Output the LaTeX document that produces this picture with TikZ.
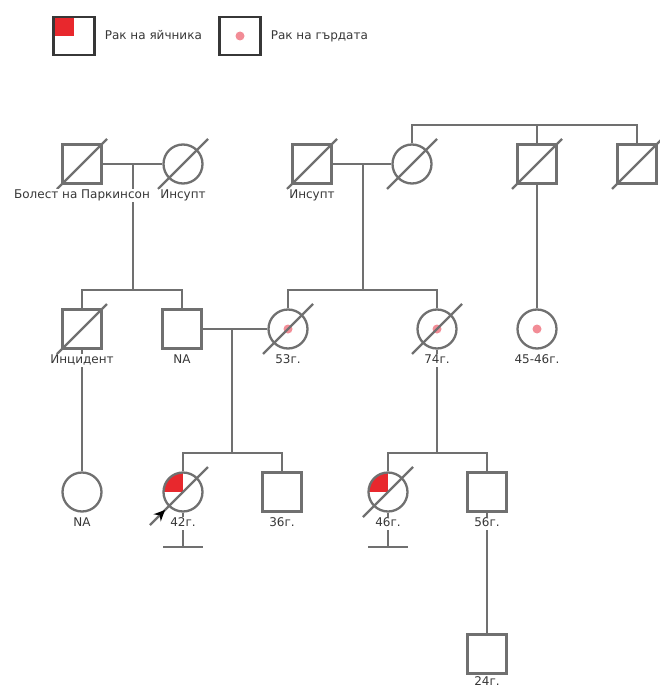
\documentclass[tikz,border=0pt]{standalone}
\usepackage{fontspec}
\setmainfont{DejaVu Sans}
\usepackage{tikz}
\usetikzlibrary{shapes,arrows,arrows.meta,positioning}

\definecolor{lgray}{RGB}{112,112,112}
\definecolor{dgray}{RGB}{55,55,55}
\definecolor{rouge}{RGB}{232,40,45}
\definecolor{rose}{RGB}{242,140,150}

% slash for a deceased person
\newcommand{\barre}[1]{\draw[lien] ([shift={(-25,25)}]#1.center) -- ([shift={(25,-25)}]#1.center);}

\begin{document}
\begin{tikzpicture}[x=1pt,y=-1pt]
	\tikzstyle{ind}=[draw=lgray,line width=2.3pt,fill=white,inner sep=0pt]
	\tikzstyle{male}=[ind,rectangle,minimum size=39pt]
	\tikzstyle{female}=[ind,circle,minimum size=39pt]
	\tikzstyle{ovaire}=[path picture={\fill[rouge] (path picture bounding box.center)
	rectangle (path picture bounding box.north west);}]
	\tikzstyle{sein}=[path picture={\fill[rose] (path picture bounding box.center)
	circle[radius=4.5pt];}]
	\tikzstyle{lab}=[fill=white,inner sep=1pt,text=dgray,text height=9pt,text
	depth=2.5pt,font=\fontsize{12}{13}\selectfont]
	\tikzstyle{lien}=[draw=lgray,line width=2.3pt]
	\tikzstyle{leg}=[draw=dgray,line width=2.3pt,rectangle,minimum width=41pt,
	minimum height=38pt,inner sep=0pt]

	\useasboundingbox (0,0) rectangle (659,690);

	% legend
	\node[leg,ovaire] (l1) at (74,36) {};
	\node[lab,right=8pt of l1] (tl1) {Рак на яйчника};
	\node[leg,sein] (l2) at (240,36) {};
	\node[lab,right=8pt of l2] (tl2) {Рак на гърдата};

	% generation I
	\node[male] (gp1) at (82,164) {};
	\node[female] (gm1) at (183,164) {};
	\node[male] (gp2) at (312,164) {};
	\node[female] (gm2) at (412,164) {};
	\node[male] (gu1) at (537,164) {};
	\node[male] (gu2) at (637,164) {};

	% generation II
	\node[male] (inc) at (82,329) {};
	\node[male] (na1) at (182,329) {};
	\node[female,sein] (m53) at (288,329) {};
	\node[female,sein] (f74) at (437,329) {};
	\node[female,sein] (f45) at (537,329) {};

	% generation III
	\node[female] (na2) at (82,492) {};
	\node[female,ovaire] (f42) at (183,492) {};
	\node[male] (m36) at (282,492) {};
	\node[female,ovaire] (f46) at (388,492) {};
	\node[male] (m56) at (487,492) {};

	% generation IV
	\node[male] (m24) at (487,654) {};

	\coordinate (c1) at (133,164);
	\coordinate (s1) at (133,290);
	\coordinate (c2) at (363,164);
	\coordinate (s2) at (363,290);
	\coordinate (s0) at (537,125);
	\coordinate (c3) at (232,329);
	\coordinate (s3) at (232,453);
	\coordinate (s4) at (437,453);
	\coordinate (e42) at (183,547);
	\coordinate (e46) at (388,547);

	% couples
	\draw[lien] (gp1) -- (gm1);
	\draw[lien] (gp2) -- (gm2);
	\draw[lien] (na1) -- (m53);

	% descent
	\draw[lien] (c1) -- (s1);
	\draw[lien] (inc.north) |- (s1) -| (na1.north);
	\draw[lien] (c2) -- (s2);
	\draw[lien] (m53.north) |- (s2) -| (f74.north);
	\draw[lien] (gm2.north) |- (s0) -| (gu2.north);
	\draw[lien] (gu1.north) -- (s0);
	\draw[lien] (gu1) -- (f45);
	\draw[lien] (inc) -- (na2);
	\draw[lien] (c3) -- (s3);
	\draw[lien] (f42.north) |- (s3) -| (m36.north);
	\draw[lien] (f74) -- (s4);
	\draw[lien] (f46.north) |- (s4) -| (m56.north);
	\draw[lien] (m56) -- (m24);
	\draw[lien] (f42) -- (e42);
	\draw[lien] ([xshift=-20pt]e42) -- ([xshift=20pt]e42);
	\draw[lien] (f46) -- (e46);
	\draw[lien] ([xshift=-20pt]e46) -- ([xshift=20pt]e46);

	% deceased
	\barre{gp1} \barre{gm1} \barre{gp2} \barre{gm2} \barre{gu1} \barre{gu2}
	\barre{inc} \barre{m53} \barre{f74} \barre{f42} \barre{f46}

	% proband
	\coordinate (pa) at (150,525);
	\coordinate (pb) at (165,510);
	\draw[-{Stealth[length=11pt,width=10pt,black]},lgray,line width=2.3pt] (pa) -- (pb);

	% labels
	\node[lab,below=4pt of gp1] (t1) {Болест на Паркинсон};
	\node[lab,below=4pt of gm1] (t2) {Инсупт};
	\node[lab,below=4pt of gp2] (t3) {Инсупт};
	\node[lab,below=4pt of inc] (t4) {Инцидент};
	\node[lab,below=4pt of na1] (t5) {NA};
	\node[lab,below=4pt of m53] (t6) {53г.};
	\node[lab,below=4pt of f74] (t7) {74г.};
	\node[lab,below=4pt of f45] (t8) {45-46г.};
	\node[lab,below=4pt of na2] (t9) {NA};
	\node[lab,below=4pt of f42] (t10) {42г.};
	\node[lab,below=4pt of m36] (t11) {36г.};
	\node[lab,below=4pt of f46] (t12) {46г.};
	\node[lab,below=4pt of m56] (t13) {56г.};
	\node[lab,below=1pt of m24] (t14) {24г.};
\end{tikzpicture}
\end{document}
